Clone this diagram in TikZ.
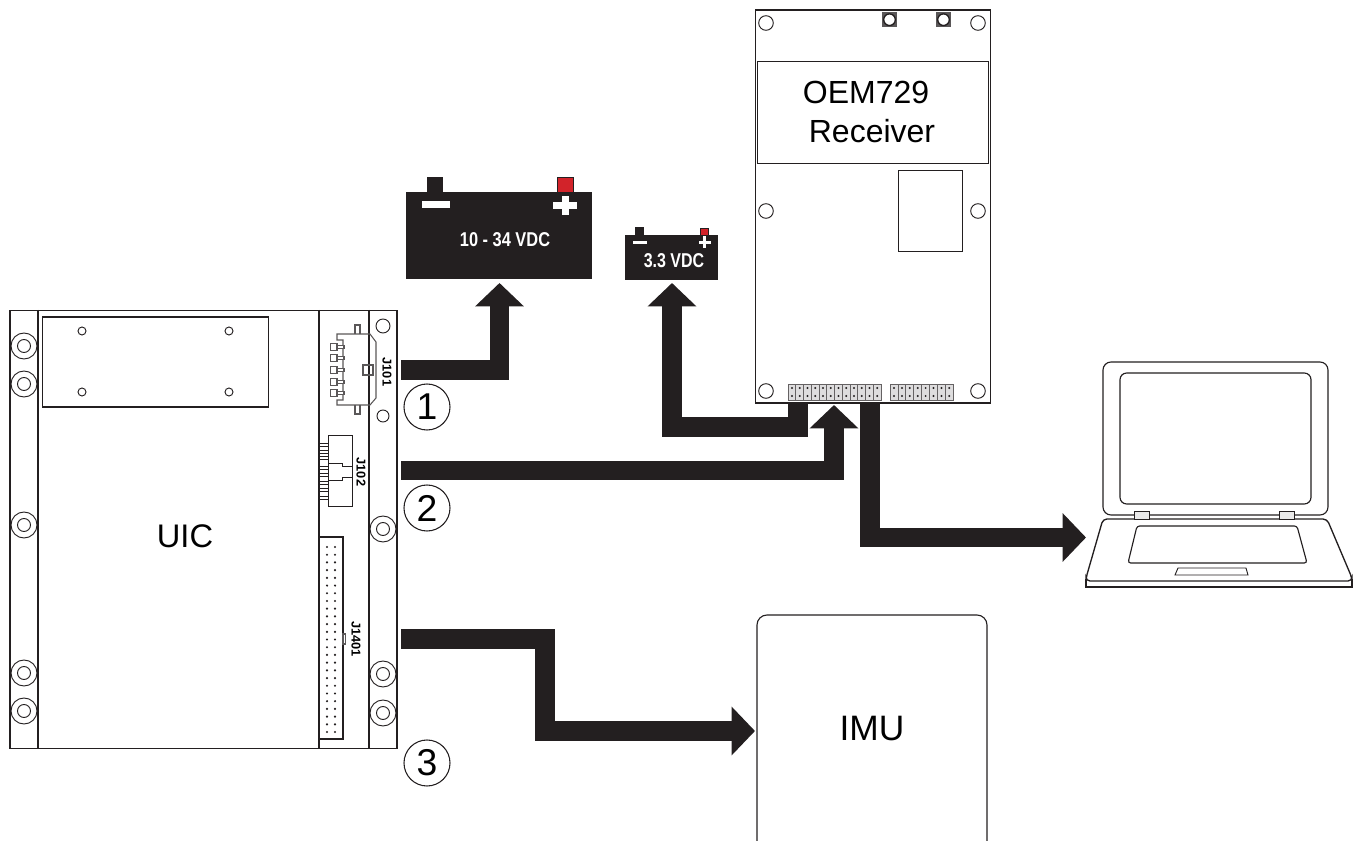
\documentclass[tikz,border=0pt]{standalone}
\usepackage{fontspec}
\usepackage{graphicx}
\setmainfont{Liberation Sans}
\usetikzlibrary{arrows.meta}
\definecolor{ink}{HTML}{231F20}
\definecolor{redterm}{HTML}{D2232A}
\tikzset{
  outline/.style={draw=ink,line width=.85pt,fill=none},
  thin outline/.style={draw=ink,line width=.7pt,fill=none},
  gray outline/.style={draw=ink!75,line width=.8pt,fill=none},
  board/.style={draw=ink,line width=.9pt,rectangle,inner sep=0pt,outer sep=0pt},
  battery/.style={fill=ink,draw=none,rectangle,inner sep=0pt,outer sep=0pt},
  flow/.style={draw=ink,line width=14.6pt,line join=miter,
     -{Triangle[length=17.5pt,width=35.5pt,color=ink]}},
  bigtext/.style={inner sep=0pt,text=black,font=\fontsize{24.5}{30}\selectfont},
  num/.style={circle,draw=ink,line width=.8pt,minimum size=34.5pt,inner sep=0pt,
     text=black,font=\fontsize{28}{32}\selectfont},
  jlabel/.style={rotate=-90,inner sep=0pt,text=black,font=\bfseries\fontsize{9.6}{11}\selectfont},
  vlabel/.style={inner sep=0pt,text=white,font=\bfseries\fontsize{15}{17}\selectfont},
}
\begin{document}
\begin{tikzpicture}[x=.75pt,y=-.75pt]
\useasboundingbox (0,0) rectangle (1361,841);

% ---------- UIC board
\node[board,minimum width=290.25pt,minimum height=329pt] (uic) at (203.5,529.5) {};
\draw[outline] (38,310) -- (38,749) (319,310) -- (319,537) (319,739) -- (319,749) (369,310) -- (369,749);
\node[bigtext] (uiclabel) at (185,536) {UIC};
\draw[outline] (42.5,317) rectangle (268.5,407);
\foreach \x/\y in {82/331,229/331,82/392,229/392}
  \draw[thin outline] (\x,\y) circle (4);
\foreach \x/\y in {24/346,24/384,24/525,24/673,24/711,383/529,383/674,383/713}{
  \draw[thin outline] (\x,\y) circle (13);
  \draw[thin outline] (\x,\y) circle (6.5);
}
\draw[thin outline] (383,326) circle (7);
\draw[thin outline] (383,416) circle (6);

% J101
\draw[gray outline] (355,334) -- (355,325) -- (360,325) -- (360,334);
\draw[gray outline] (355,405) -- (355,414) -- (360,414) -- (360,405);
\draw[gray outline] (337,340) -- (337,334) -- (370,334) -- (376,342) -- (376,398) -- (370,405) -- (337,405) -- (337,400)
  -- (343,400) -- (343,340) -- cycle;
\foreach \y in {347,358,370,382,393}{
  \draw[gray outline,fill=white] (337,\y-1.7) rectangle (344,\y+1.7);
  \draw[gray outline,fill=white] (330.5,\y-3.2) rectangle (337,\y+3.2);
}
\draw[gray outline] (363,365) rectangle (373,375);
\node[jlabel] (j101) at (387,372) {J101};

% J102
\foreach \y in {445,452,458,468,475,483,490,498}
  \draw[thin outline,fill=white] (319,\y-1.6) rectangle (328.5,\y+1.6);
\draw[thin outline] (328.5,435) rectangle (352,506);
\draw[thin outline] (328.5,463) -- (342,463) -- (342,466) -- (352,466);
\draw[thin outline] (352,477) -- (342,477) -- (342,480) -- (328.5,480);
\node[jlabel] (j102) at (361,472) {J102};

% J1401
\draw[outline] (319,537) rectangle (343,739);
\draw[gray outline] (343,634) rectangle (345.5,644);
\foreach \i in {0,...,24}
  \foreach \x in {327,335}
    \fill[ink] (\x,547+\i*7.71) circle (1.2);
\node[jlabel] (j1401) at (356,639) {J1401};

% numbered circles
\node[num] (n1) at (427,407) {1};
\node[num] (n2) at (427,508) {2};
\node[num] (n3) at (427,763) {3};

% ---------- batteries
\node[battery,minimum width=139.5pt,minimum height=65.25pt] (bat1) at (499,235.5) {};
\fill[ink] (427,177) rectangle (443,193);
\fill[redterm,draw=ink,line width=.6pt] (557,177) rectangle (573,192);
\fill[white] (422,201) rectangle (450,208);
\fill[white] (553,202) rectangle (577,209);
\fill[white] (562,196) rectangle (569,215);
\node[vlabel] (bat1text) at (505,240) {\scalebox{.82}[1]{10 - 34 VDC}};

\node[battery,minimum width=69.75pt,minimum height=33.4pt] (bat2) at (671.5,257.3) {};
\fill[ink] (635,227) rectangle (644,236);
\fill[redterm,draw=ink,line width=.5pt] (700,228) rectangle (708.5,235);
\fill[white] (633,241) rectangle (647,244.5);
\fill[white] (698.5,241) rectangle (710.5,244.5);
\fill[white] (702.8,236.5) rectangle (706.3,248.5);
\node[vlabel] (bat2text) at (674,261) {\scalebox{.8}[1]{3.3 VDC}};

% ---------- receiver
\node[board,minimum width=176.25pt,minimum height=294.75pt] (rcv) at (873,206.5) {};
\draw[thin outline] (757,61) rectangle (988,163);
\node[bigtext,font=\fontsize{24}{30}\selectfont] (rcv1) at (866,92) {OEM729};
\node[bigtext,font=\fontsize{24}{30}\selectfont] (rcv2) at (872,131) {Receiver};
\draw[thin outline] (898,170) rectangle (962,251);
\foreach \x in {766,978}
  \foreach \y in {23,211,391}
    \draw[thin outline] (\x,\y) circle (7.3);
\foreach \x in {889.5,943.5}{
  \fill[ink!75] (\x-7.5,12) rectangle (\x+7.5,27.5);
  \draw[ink,fill=white,line width=1pt] (\x,19.7) circle (5.8);
}
\foreach \i in {0,...,11}{
  \draw[fill=ink!15,draw=ink!70,line width=.5pt] (788+\i*7.75,384) rectangle (788+\i*7.75+7.75,400);
  \fill[ink] (792+\i*7.75,388) circle (1.1) (792+\i*7.75,396) circle (1.1);
}
\foreach \i in {0,...,7}{
  \draw[fill=ink!15,draw=ink!70,line width=.5pt] (890+\i*7.9,384) rectangle (890+\i*7.9+7.9,400);
  \fill[ink] (894+\i*7.9,388) circle (1.1) (894+\i*7.9,396) circle (1.1);
}

% ---------- IMU
\draw[outline] (757,841) -- (757,625) [rounded corners=7.5pt] -- (757,615) -- (987,615) [sharp corners] -- (987,841);
\node[bigtext,font=\fontsize{26.5}{30}\selectfont] (imu) at (872,729) {IMU};

% ---------- laptop
\draw[outline,rounded corners=6pt,fill=white] (1103,362) rectangle (1328,515);
\draw[outline,rounded corners=5pt] (1120,373) rectangle (1311,504);
\draw[outline,line width=1pt,rounded corners=3pt,fill=white] (1103,519) -- (1327,519) -- (1352,578) -- (1352,581) -- (1086,581) -- (1086,578) -- cycle;
\draw[outline,line width=1pt] (1086,579) -- (1086,587) -- (1352,587) -- (1352,579);
\draw[thin outline,fill=ink!10] (1134.5,511) rectangle (1149,519);
\draw[thin outline,fill=ink!10] (1279.5,511) rectangle (1294,519);
\draw[outline,rounded corners=2pt] (1137,526) -- (1297,526) -- (1307,563) -- (1128,563) -- cycle;
\draw[thin outline] (1178,568) -- (1246,568) -- (1248,575) -- (1175,575) -- cycle;

% ---------- connectors
\coordinate (a1s) at (401,370);
\coordinate (a1c) at (499.5,370);
\coordinate (a1e) at (499.5,283);
\coordinate (a2s) at (401,470.5);
\coordinate (a2c) at (834,470.5);
\coordinate (a2e) at (834,405);
\coordinate (a3s) at (798,404);
\coordinate (a3c) at (798,427);
\coordinate (a3d) at (672,427);
\coordinate (a3e) at (672,283);
\coordinate (a4s) at (870,404);
\coordinate (a4c) at (870,537.5);
\coordinate (a4e) at (1086,537.5);
\coordinate (a5s) at (401,639);
\coordinate (a5c) at (545,639);
\coordinate (a5d) at (545,731);
\coordinate (a5e) at (755,731);
\draw[flow] (a1s) -- (a1c) -- (a1e);
\draw[flow] (a2s) -- (a2c) -- (a2e);
\draw[flow] (a3s) -- (a3c) -- (a3d) -- (a3e);
\draw[flow] (a4s) -- (a4c) -- (a4e);
\draw[flow] (a5s) -- (a5c) -- (a5d) -- (a5e);
\end{tikzpicture}
\end{document}
